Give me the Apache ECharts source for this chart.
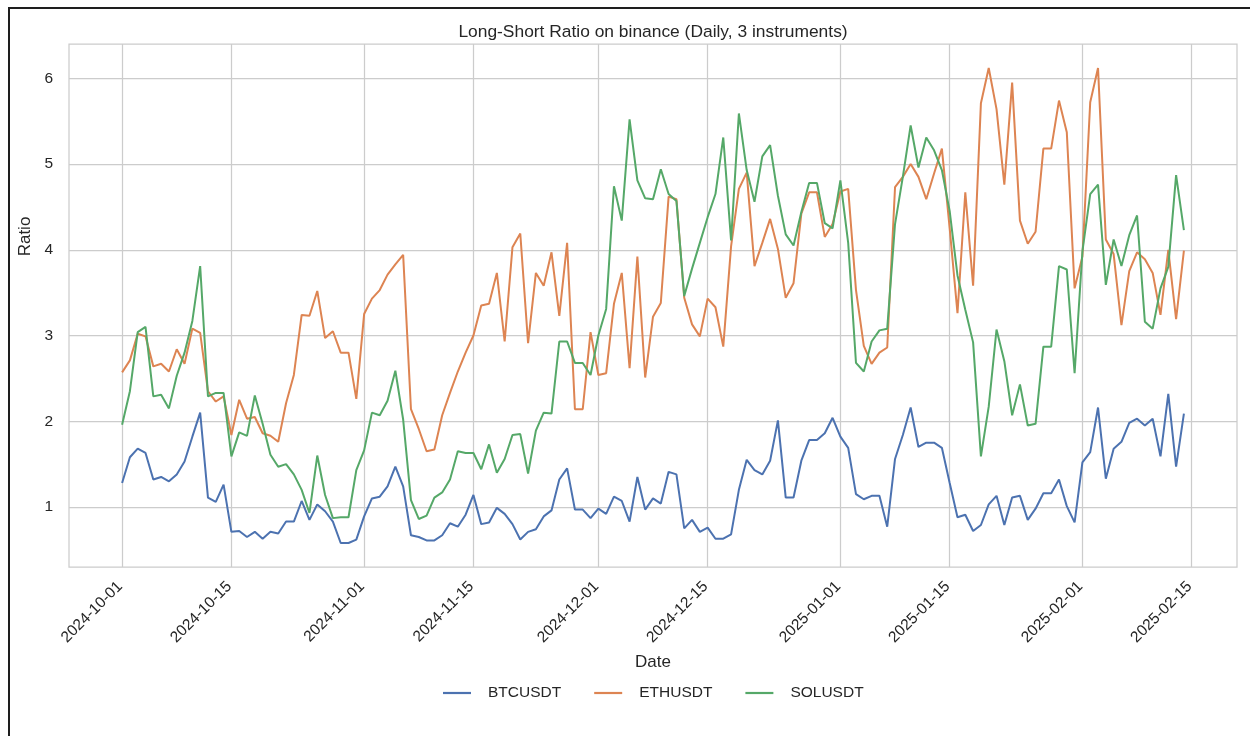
<!DOCTYPE html>
<html>
<head>
<meta charset="utf-8">
<title>Long-Short Ratio on binance</title>
<script src="https://cdn.jsdelivr.net/npm/echarts@6/dist/echarts.min.js"></script>
<style>
  html, body { margin: 0; padding: 0; background: #ffffff; }
  #chart { position: absolute; left: 0; top: 0; width: 1250px; height: 736px; }
  #frame {
    position: absolute; left: 8px; top: 7px; width: 1260px; height: 760px;
    border-left: 2px solid #1e1e1e; border-top: 2px solid #1e1e1e;
    pointer-events: none;
  }
</style>
</head>
<body>
<div id="chart"></div>
<div id="frame"></div>
<script>
// Daily observations, one per calendar day starting 2024-10-01
const firstDay = '2024-10-01';
const dayCount = 137;

// Date ticks on the x axis and value ticks on the y axis
const xTickLabels = ['2024-10-01', '2024-10-15', '2024-11-01', '2024-11-15', '2024-12-01',
                     '2024-12-15', '2025-01-01', '2025-01-15', '2025-02-01', '2025-02-15'];
const yTickValues = [1, 2, 3, 4, 5, 6];

const instruments = ['BTCUSDT', 'ETHUSDT', 'SOLUSDT'];

// Long/short ratio per instrument
const btcusdt = [
  1.28, 1.58, 1.68, 1.63, 1.32, 1.35, 1.30, 1.38, 1.53, 1.82,
  2.10, 1.11, 1.06, 1.26, 0.71, 0.72, 0.65, 0.71, 0.63, 0.71,
  0.69, 0.83, 0.83, 1.07, 0.85, 1.03, 0.95, 0.83, 0.58, 0.58,
  0.62, 0.89, 1.10, 1.12, 1.24, 1.47, 1.24, 0.67, 0.65, 0.61,
  0.61, 0.67, 0.81, 0.77, 0.91, 1.14, 0.80, 0.82, 0.99, 0.92,
  0.80, 0.62, 0.71, 0.74, 0.89, 0.96, 1.32, 1.45, 0.97, 0.97,
  0.87, 0.98, 0.92, 1.12, 1.07, 0.83, 1.35, 0.97, 1.10, 1.04,
  1.41, 1.38, 0.75, 0.85, 0.71, 0.76, 0.63, 0.63, 0.68, 1.20,
  1.55, 1.43, 1.38, 1.54, 2.01, 1.11, 1.11, 1.54, 1.78, 1.78,
  1.86, 2.04, 1.82, 1.69, 1.15, 1.09, 1.13, 1.13, 0.77, 1.56,
  1.84, 2.16, 1.70, 1.75, 1.75, 1.69, 1.28, 0.88, 0.91, 0.72,
  0.79, 1.03, 1.13, 0.79, 1.11, 1.13, 0.85, 0.98, 1.16, 1.16,
  1.32, 1.01, 0.82, 1.52, 1.64, 2.16, 1.33, 1.68, 1.76, 1.98,
  2.03, 1.95, 2.03, 1.59, 2.32, 1.47, 2.09
];
const ethusdt = [
  2.57, 2.71, 3.02, 2.99, 2.64, 2.67, 2.58, 2.84, 2.67, 3.08,
  3.03, 2.35, 2.23, 2.29, 1.84, 2.25, 2.03, 2.05, 1.86, 1.83,
  1.76, 2.21, 2.54, 3.24, 3.23, 3.52, 2.97, 3.05, 2.80, 2.80,
  2.26, 3.25, 3.43, 3.53, 3.71, 3.83, 3.94, 2.14, 1.91, 1.65,
  1.67, 2.07, 2.33, 2.58, 2.80, 3.00, 3.35, 3.37, 3.73, 2.93,
  4.03, 4.19, 2.91, 3.73, 3.58, 3.97, 3.23, 4.08, 2.14, 2.14,
  3.04, 2.54, 2.56, 3.37, 3.73, 2.62, 3.92, 2.51, 3.22, 3.38,
  4.62, 4.59, 3.44, 3.13, 2.99, 3.43, 3.33, 2.87, 4.04, 4.71,
  4.90, 3.81, 4.08, 4.36, 4.01, 3.44, 3.61, 4.42, 4.67, 4.67,
  4.15, 4.30, 4.68, 4.71, 3.53, 2.88, 2.67, 2.80, 2.86, 4.73,
  4.85, 5.00, 4.85, 4.59, 4.89, 5.18, 4.25, 3.26, 4.67, 3.58,
  5.71, 6.12, 5.64, 4.76, 5.95, 4.34, 4.07, 4.21, 5.18, 5.18,
  5.74, 5.37, 3.55, 3.92, 5.72, 6.12, 4.12, 3.95, 3.12, 3.75,
  3.97, 3.89, 3.73, 3.24, 4.00, 3.19, 3.99
];
const solusdt = [
  1.96, 2.35, 3.04, 3.10, 2.29, 2.31, 2.15, 2.53, 2.80, 3.17,
  3.81, 2.29, 2.33, 2.33, 1.59, 1.87, 1.83, 2.30, 1.97, 1.61,
  1.47, 1.50, 1.38, 1.20, 0.93, 1.60, 1.14, 0.87, 0.88, 0.88,
  1.43, 1.66, 2.10, 2.07, 2.24, 2.59, 2.02, 1.08, 0.86, 0.90,
  1.11, 1.17, 1.32, 1.65, 1.63, 1.63, 1.44, 1.73, 1.40, 1.56,
  1.84, 1.85, 1.39, 1.89, 2.10, 2.09, 2.93, 2.93, 2.68, 2.68,
  2.54, 3.00, 3.31, 4.74, 4.34, 5.52, 4.81, 4.60, 4.59, 4.94,
  4.65, 4.57, 3.46, 3.78, 4.08, 4.38, 4.65, 5.31, 4.11, 5.59,
  4.93, 4.56, 5.09, 5.22, 4.63, 4.18, 4.05, 4.44, 4.78, 4.78,
  4.31, 4.25, 4.81, 4.08, 2.68, 2.58, 2.93, 3.06, 3.08, 4.30,
  4.85, 5.45, 4.96, 5.31, 5.16, 4.93, 4.45, 3.70, 3.30, 2.92,
  1.59, 2.17, 3.07, 2.70, 2.07, 2.43, 1.95, 1.97, 2.87, 2.87,
  3.81, 3.77, 2.56, 3.98, 4.65, 4.76, 3.59, 4.12, 3.81, 4.17,
  4.40, 3.16, 3.08, 3.55, 3.80, 4.87, 4.23
];

const palette = ['#4c72b0', '#dd8452', '#55a868'];
const seriesValues = [btcusdt, ethusdt, solusdt];

function toTime(iso) {
  const p = iso.split('-').map(Number);
  return new Date(p[0], p[1] - 1, p[2]).getTime();
}
function pad2(n) { return (n < 10 ? '0' : '') + n; }
function fmtDate(t) {
  const d = new Date(t);
  return d.getFullYear() + '-' + pad2(d.getMonth() + 1) + '-' + pad2(d.getDate());
}

// Calendar days of the sample, as timestamps on a linear x axis
const t0 = toTime(firstDay);
const dayTimes = [];
for (let i = 0; i < dayCount; i++) {
  const d = new Date(t0);
  d.setDate(d.getDate() + i);
  dayTimes.push(d.getTime());
}
const span = dayTimes[dayTimes.length - 1] - dayTimes[0];
const xMin = dayTimes[0] - span * 0.05;
const xMax = dayTimes[dayTimes.length - 1] + span * 0.05;
const xTickTimes = xTickLabels.map(toTime);

const FONT = '"Liberation Sans", Arial, "DejaVu Sans", sans-serif';
const INK = '#262626';
const GRID = '#cccccc';

const chart = echarts.init(document.getElementById('chart'), null, { renderer: 'canvas' });

chart.setOption({
  animation: false,
  backgroundColor: '#ffffff',
  textStyle: { fontFamily: FONT },
  title: {
    text: 'Long-Short Ratio on binance (Daily, 3 instruments)',
    left: 648,
    textAlign: 'center',
    top: 19,
    textStyle: { fontFamily: FONT, fontSize: 17.4, fontWeight: 'normal', color: INK }
  },
  grid: {
    left: 69, right: 13, top: 44, bottom: 169,
    show: true, borderColor: GRID, borderWidth: 1.25, backgroundColor: 'transparent'
  },
  legend: {
    data: instruments,
    left: 443,
    top: 685,
    padding: 0,
    icon: 'rect',
    itemWidth: 28,
    itemHeight: 2.2,
    itemGap: 33,
    textStyle: { fontFamily: FONT, fontSize: 15.5, color: INK, padding: [0, 0, 0, 12] }
  },
  xAxis: {
    type: 'value',
    min: xMin,
    max: xMax,
    name: 'Date',
    nameLocation: 'middle',
    nameGap: 87,
    nameTextStyle: { fontFamily: FONT, fontSize: 17, color: INK },
    axisLine: { show: false },
    axisTick: { show: false, customValues: xTickTimes },
    axisLabel: {
      customValues: xTickTimes,
      rotate: 45,
      margin: 15,
      fontFamily: FONT,
      fontSize: 15.5,
      color: INK,
      padding: [0, 3, 0, 0],
      formatter: function (v) { return fmtDate(v); }
    },
    splitLine: { show: true, lineStyle: { color: GRID, width: 1.25 } }
  },
  yAxis: {
    type: 'value',
    min: 0.30,
    max: 6.40,
    name: 'Ratio',
    nameLocation: 'middle',
    nameRotate: 90,
    nameGap: 30,
    nameTextStyle: { fontFamily: FONT, fontSize: 17, color: INK, padding: [0, 0, 0, 138] },
    axisLine: { show: false },
    axisTick: { show: false, customValues: yTickValues },
    axisLabel: {
      customValues: yTickValues,
      margin: 16,
      fontFamily: FONT,
      fontSize: 15.5,
      color: INK
    },
    splitLine: { show: true, lineStyle: { color: GRID, width: 1.25 } }
  },
  series: instruments.map(function (name, k) {
    return {
      name: name,
      type: 'line',
      data: dayTimes.map(function (t, i) { return [t, seriesValues[k][i]]; }),
      showSymbol: false,
      symbol: 'none',
      lineStyle: { color: palette[k], width: 2 },
      itemStyle: { color: palette[k] },
      z: 2 + k
    };
  })
});
</script>
</body>
</html>
